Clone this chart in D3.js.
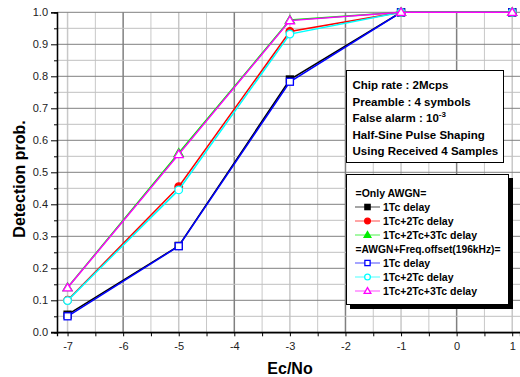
<!DOCTYPE html>
<html>
<head>
<meta charset="utf-8">
<script src="https://d3js.org/d3.v7.min.js"></script>
<style>
  body { margin: 0; background: #fff; }
  svg text { font-family: "Liberation Sans", Arial, sans-serif; }
</style>
</head>
<body>
<div id="chart"></div>
<script>
  // Ec/No values (x) and detection probabilities per curve
  const ecno = [-7, -5, -3, -1, 1];
  const awgn1Tc = [0.055, 0.27, 0.79, 1.0, 1.0];
  const awgn2Tc = [0.10, 0.455, 0.94, 1.0, 1.0];
  const awgn3Tc = [0.14, 0.56, 0.976, 1.0, 1.0];
  const freq1Tc = [0.05, 0.269, 0.783, 1.0, 1.0];
  const freq2Tc = [0.099, 0.445, 0.932, 1.0, 1.0];
  const freq3Tc = [0.139, 0.556, 0.974, 1.0, 1.0];

  const xTicks = [-7, -6, -5, -4, -3, -2, -1, 0, 1];
  const yTicks = [0, 0.1, 0.2, 0.3, 0.4, 0.5, 0.6, 0.7, 0.8, 0.9, 1.0];
  const infoLines = ["Chip rate : 2Mcps", "Preamble : 4 symbols", "False alarm : 10", "Half-Sine Pulse Shaping", "Using Received 4 Samples"];

  const series = [
    { name: "1Tc delay", values: awgn1Tc, color: "#000000", shape: "square", filled: true },
    { name: "1Tc+2Tc delay", values: awgn2Tc, color: "#ff0000", shape: "circle", filled: true },
    { name: "1Tc+2Tc+3Tc delay", values: awgn3Tc, color: "#00ee00", shape: "triangle", filled: true },
    { name: "1Tc delay", values: freq1Tc, color: "#0000ff", shape: "square", filled: false },
    { name: "1Tc+2Tc delay", values: freq2Tc, color: "#00ffff", shape: "circle", filled: false },
    { name: "1Tc+2Tc+3Tc delay", values: freq3Tc, color: "#ff00ff", shape: "triangle", filled: false }
  ];

  const W = 520, H = 377;
  const svg = d3.select("#chart").append("svg").attr("width", W).attr("height", H);

  const x = d3.scaleLinear().domain([-7.19, 1.14]).range([57, 520]);
  const y = d3.scaleLinear().domain([0, 1]).range([332.3, 12.3]);

  // grid: minor first, then major
  const minorX = d3.range(-7, 1.01, 0.5);
  const minorY = d3.range(0, 1.001, 0.05);
  const grid = svg.append("g");
  grid.selectAll(".gx").data(minorX).enter().append("line")
    .attr("x1", d => x(d)).attr("x2", d => x(d))
    .attr("y1", y(0)).attr("y2", y(1))
    .attr("stroke", d => (Math.abs(d % 2) === 0 ? "#808080" : "#c8c8c8"))
    .attr("stroke-width", d => (Number.isInteger(d) ? 1.5 : 1));
  grid.selectAll(".gy").data(minorY).enter().append("line")
    .attr("x1", x.range()[0]).attr("x2", W)
    .attr("y1", d => y(d)).attr("y2", d => y(d))
    .attr("stroke", (d, i) => (i % 2 === 0 ? "#808080" : "#c0c0c0"))
    .attr("stroke-width", 1);

  // axes
  svg.append("g").attr("transform", "translate(57,0)")
    .call(d3.axisLeft(y).tickValues(yTicks).tickFormat(d3.format(".1f")).tickSize(6).tickPadding(3));
  svg.append("g").attr("transform", "translate(57,0)")
    .call(d3.axisLeft(y).tickValues(d3.range(0.05, 1, 0.1)).tickFormat("").tickSize(3));
  const xAxis = svg.append("g").attr("transform", `translate(0,${y(0)})`)
    .call(d3.axisBottom(x).tickValues(xTicks).tickFormat(d => String(d)).tickSize(4).tickPadding(6));
  svg.append("g").attr("transform", `translate(0,${y(0)})`)
    .call(d3.axisBottom(x).tickValues(d3.range(-6.5, 1, 1)).tickFormat("").tickSize(4));
  svg.selectAll(".domain").attr("stroke", "#000").attr("stroke-width", 1.3);
  svg.selectAll(".tick line").attr("stroke", "#000");
  svg.selectAll(".tick text").style("font-size", "11px").attr("fill", "#222");
  xAxis.select(".domain").attr("d", `M51,0H${W}`);

  // axis titles
  svg.append("text").attr("x", 290).attr("y", 374).attr("text-anchor", "middle")
    .style("font-size", "16px").style("font-weight", "bold").text("Ec/No");
  svg.append("text").attr("transform", "translate(25,179) rotate(-90)").attr("text-anchor", "middle")
    .style("font-size", "16px").style("font-weight", "bold").text("Detection prob.");

  // marker drawing
  function marker(g, s, cx, cy, scale) {
    const fill = s.filled ? s.color : "#fff";
    if (s.shape === "square") {
      g.append("rect").attr("x", cx - 3.5 * scale).attr("y", cy - 3.5 * scale)
        .attr("width", 7 * scale).attr("height", 7 * scale)
        .attr("fill", fill).attr("stroke", s.color).attr("stroke-width", 1.3);
    } else if (s.shape === "circle") {
      g.append("circle").attr("cx", cx).attr("cy", cy).attr("r", 3.8 * scale)
        .attr("fill", fill).attr("stroke", s.color).attr("stroke-width", 1.3);
    } else {
      const r = 4.5 * scale;
      g.append("path")
        .attr("d", `M${cx},${cy - r}L${cx + r},${cy + r * 0.7}L${cx - r},${cy + r * 0.7}Z`)
        .attr("fill", fill).attr("stroke", s.color).attr("stroke-width", 1.3);
    }
  }

  const line = d3.line().x((d, i) => x(ecno[i])).y(d => y(d));
  const order = [0, 3, 1, 4, 2, 5];
  order.forEach(k => {
    const s = series[k];
    const g = svg.append("g");
    g.append("path").datum(s.values).attr("d", line)
      .attr("fill", "none").attr("stroke", s.color).attr("stroke-width", 1.5);
    s.values.forEach((v, i) => marker(g, s, x(ecno[i]), y(v), 1));
  });

  // info box
  const info = svg.append("g");
  info.append("rect").attr("x", 346.5).attr("y", 70.5).attr("width", 157).attr("height", 92)
    .attr("fill", "#fff").attr("stroke", "#000").attr("stroke-width", 1);
  infoLines.forEach((t, i) => {
    const tx = info.append("text").attr("x", 352.5).attr("y", 89 + i * 16.5)
      .style("font-size", "11.5px").style("font-weight", "bold").text(t);
    if (i === 2) tx.append("tspan").attr("dy", -5).style("font-size", "8px").text("-3");
  });

  // legend with shadow
  const leg = svg.append("g");
  leg.append("rect").attr("x", 350).attr("y", 178).attr("width", 163).attr("height", 131).attr("fill", "#000");
  leg.append("rect").attr("x", 346.5).attr("y", 174.5).attr("width", 162).attr("height", 130)
    .attr("fill", "#fff").attr("stroke", "#000").attr("stroke-width", 1);
  const legRows = [
    { head: "=Only AWGN=" }, { s: 0 }, { s: 1 }, { s: 2 },
    { head: "=AWGN+Freq.offset(196kHz)=" }, { s: 3 }, { s: 4 }, { s: 5 }
  ];
  legRows.forEach((r, i) => {
    const cy = 193 + i * 14;
    if (r.head) {
      const t = leg.append("text").attr("x", 355.5).attr("y", cy + 4)
        .style("font-size", "10.5px").style("font-weight", "bold").text(r.head);
      if (r.head.length > 20) t.attr("textLength", 145).attr("lengthAdjust", "spacingAndGlyphs");
    } else {
      const s = series[r.s];
      leg.append("line").attr("x1", 355).attr("x2", 380).attr("y1", cy).attr("y2", cy)
        .attr("stroke", s.color).attr("stroke-width", 1).attr("opacity", 0.7);
      marker(leg, s, 367.5, cy, 0.75);
      leg.append("text").attr("x", 383).attr("y", cy + 4)
        .style("font-size", "10.5px").style("font-weight", "bold").text(s.name);
    }
  });
</script>
</body>
</html>
